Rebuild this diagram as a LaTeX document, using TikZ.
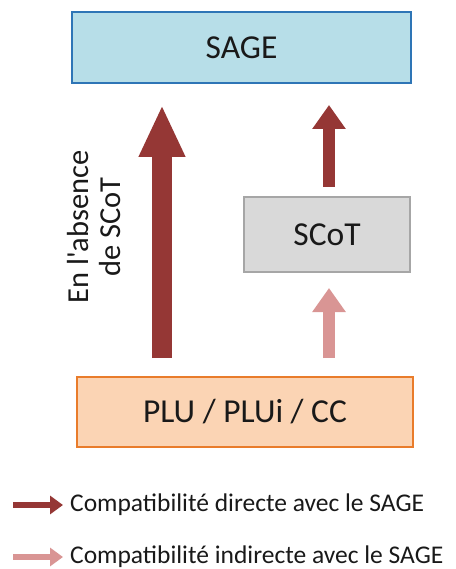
\documentclass[tikz,border=0pt]{standalone}
\usepackage{fontspec}
\setmainfont{Carlito}
\usetikzlibrary{arrows.meta}
\definecolor{darkred}{HTML}{953735}
\definecolor{pinkred}{HTML}{D99594}
\definecolor{sagefill}{HTML}{B7DEE8}
\definecolor{sageline}{HTML}{2E75B6}
\definecolor{scotfill}{HTML}{D9D9D9}
\definecolor{scotline}{HTML}{A6A6A6}
\definecolor{plufill}{HTML}{FBD4B4}
\definecolor{pluline}{HTML}{E97C2B}
\tikzset{
  box/.style={draw, line width=2pt, inner sep=0pt, font=\fontsize{33.5}{38}\selectfont, text=black!90},
  bigarrow/.style={draw=darkred, line width=20pt, -{Triangle[width=43pt,length=52pt]}},
  smallarrow/.style={line width=12pt, -{Triangle[width=32pt,length=24pt]}},
  legarrow/.style={line width=6pt, -{Triangle[width=18pt,length=13pt]}},
  legtext/.style={anchor=west, inner sep=0pt, font=\fontsize{25.5}{30}\selectfont, text=black!90}
}
\begin{document}
\begin{tikzpicture}[x=1pt,y=-1pt]
\useasboundingbox (0,0) rectangle (455,569);
\node[box, fill=sagefill, draw=sageline, minimum width=339pt, minimum height=71pt] (sage) at (241.5,47.5) {SAGE};
\node[box, fill=scotfill, draw=scotline, line width=1.5pt, minimum width=166pt, minimum height=75pt] (scot) at (327,234.5) {SCoT};
\node[box, fill=plufill, draw=pluline, minimum width=336pt, minimum height=70pt] (plu) at (245,412) {PLU / PLUi / CC};
% arrows
\coordinate (bigB) at (162,377);
\coordinate (bigT) at (162,83);
\draw[bigarrow, shorten <=19pt, shorten >=22pt] (bigB) -- (bigT);
\coordinate (upB) at (329,197);
\coordinate (upT) at (329,83);
\draw[smallarrow, draw=darkred, shorten <=10pt, shorten >=22pt] (upB) -- (upT);
\coordinate (loB) at (329,377);
\coordinate (loT) at (329,272);
\draw[smallarrow, draw=pinkred, shorten <=19pt, shorten >=16pt] (loB) -- (loT);
% rotated label
\node[rotate=90, align=center, inner sep=0pt, font=\fontsize{30.5}{32}\selectfont, text=black!90] (lbl) at (94,227) {En l\textquotesingle absence\\de SCoT};
% legend
\coordinate (l1a) at (13,505);
\coordinate (l1b) at (63,505);
\draw[legarrow, draw=darkred] (l1a) -- (l1b);
\node[legtext] (t1) at (70,505) {Compatibilité directe avec le SAGE};
\coordinate (l2a) at (13,557);
\coordinate (l2b) at (63,557);
\draw[legarrow, draw=pinkred] (l2a) -- (l2b);
\node[legtext] (t2) at (70,557) {Compatibilité indirecte avec le SAGE};
\end{tikzpicture}
\end{document}
